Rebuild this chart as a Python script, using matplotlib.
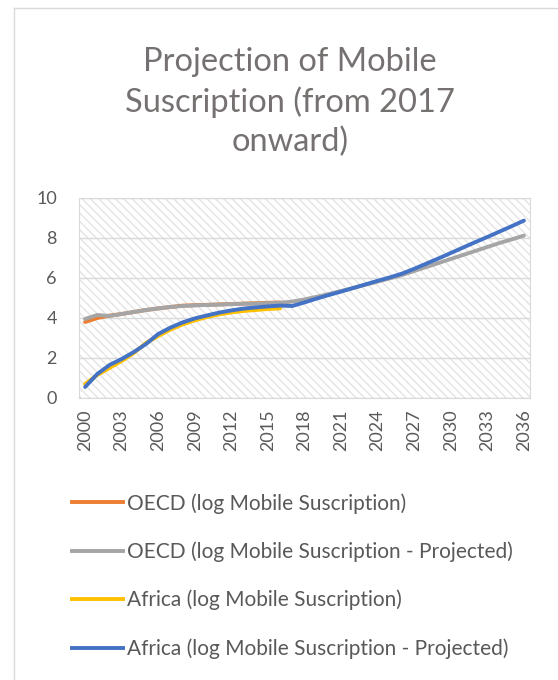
import matplotlib
matplotlib.use("Agg")
import matplotlib.pyplot as plt
from matplotlib.lines import Line2D

plt.rcParams['font.family'] = ['Lato', 'DejaVu Sans']
plt.rcParams['hatch.color'] = '#e4e4e4'
plt.rcParams['hatch.linewidth'] = 1.0

years = list(range(2000, 2037))
hist_years = list(range(2000, 2017))

oecd = [3.80, 4.00, 4.12, 4.20, 4.30, 4.40, 4.48, 4.55, 4.62, 4.64, 4.66,
        4.68, 4.70, 4.72, 4.74, 4.76, 4.78]
oecd_proj = [3.95, 4.15, 4.10, 4.20, 4.30, 4.40, 4.48, 4.55, 4.60, 4.63, 4.65,
             4.67, 4.69, 4.71, 4.72, 4.74, 4.76, 4.82, 4.93, 5.06, 5.20, 5.35,
             5.50, 5.66, 5.82, 5.98, 6.15, 6.35, 6.55, 6.75, 6.95, 7.15, 7.35,
             7.55, 7.75, 7.93, 8.12]
africa = [0.70, 1.15, 1.50, 1.85, 2.25, 2.75, 3.10, 3.42, 3.68, 3.88, 4.05,
          4.18, 4.28, 4.35, 4.40, 4.45, 4.48]
africa_proj = [0.55, 1.20, 1.65, 1.95, 2.30, 2.70, 3.20, 3.52, 3.78, 3.98, 4.13,
               4.27, 4.38, 4.47, 4.53, 4.58, 4.62, 4.60, 4.78, 4.97, 5.15, 5.32,
               5.50, 5.68, 5.86, 6.03, 6.22, 6.46, 6.72, 6.98, 7.25, 7.52, 7.79,
               8.05, 8.32, 8.59, 8.87]

labels = ['OECD (log Mobile Suscription)',
          'OECD (log Mobile Suscription - Projected)',
          'Africa (log Mobile Suscription)',
          'Africa (log Mobile Suscription - Projected)']
colors = ['#ED7D31', '#A5A5A5', '#FFC000', '#4472C4']

W, H = 558, 680
fig = plt.figure(figsize=(W / 100, H / 100), dpi=100)

# chart border (only top and left visible in the crop)
fig.add_artist(Line2D([14 / W, 14 / W], [0, 1 - 8 / H], color='#d9d9d9', lw=1))
fig.add_artist(Line2D([14 / W, 1], [1 - 8 / H, 1 - 8 / H], color='#d9d9d9', lw=1))

ax = fig.add_axes([79 / W, 1 - 398 / H, 451 / W, 200 / H])
ax.set_facecolor('white')
ax.patch.set_hatch('\\\\\\\\')
ax.patch.set_edgecolor('#e4e4e4')

ax.plot(hist_years, oecd, color=colors[0], lw=2.8, solid_capstyle='round')
ax.plot(years, oecd_proj, color=colors[1], lw=2.8, solid_capstyle='round')
ax.plot(hist_years, africa, color=colors[2], lw=2.8, solid_capstyle='round')
ax.plot(years, africa_proj, color=colors[3], lw=2.8, solid_capstyle='round')

ax.set_xlim(1999.5, 2036.5)
ax.set_ylim(0, 10)
ax.set_yticks(range(0, 11, 2))
ax.set_xticks(years[::3])
ax.set_xticklabels([str(y) for y in years[::3]], rotation=90)
ax.tick_params(length=0, labelsize=13, colors='#595959')
ax.tick_params(axis='x', pad=8)
ax.tick_params(axis='y', pad=16)
ax.grid(axis='y', color='#d9d9d9', lw=1)
ax.set_axisbelow(True)
for s in ax.spines.values():
    s.set_color('#d9d9d9')

fig.text(290 / W, 1 - 102 / H,
         'Projection of Mobile\nSuscription (from 2017\nonward)',
         ha='center', va='center', fontsize=23.5, color='#767171',
         linespacing=1.36)

handles = [Line2D([], [], color=c, lw=2.8) for c in colors]
fig.legend(handles, labels, loc='upper left', bbox_to_anchor=(72 / W, 1 - 493 / H),
           frameon=False, fontsize=15, labelcolor='#595959', handlelength=2.45,
           handletextpad=0.2, labelspacing=1.335, borderpad=0, borderaxespad=0)

fig.savefig('out.png', dpi=100)
